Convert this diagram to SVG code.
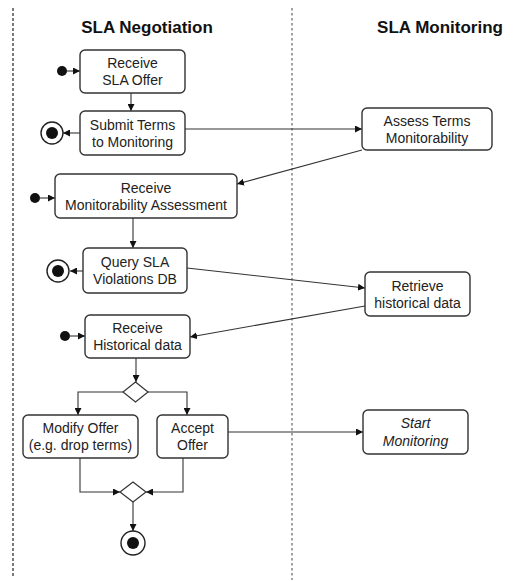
<svg xmlns="http://www.w3.org/2000/svg" width="523" height="581" viewBox="0 0 523 581">
<style>
.lane{stroke:#333;stroke-width:1.3;stroke-dasharray:3 2;fill:none}
.lane2{stroke:#555;stroke-width:1.1;stroke-dasharray:2.5 2.5;fill:none}
.title{font-family:"Liberation Sans",Arial,sans-serif;font-weight:bold;font-size:17px;fill:#111;text-anchor:middle}
.box{fill:#fff;stroke:#333;stroke-width:1.4}
.t{font-family:"Liberation Sans",Arial,sans-serif;font-size:14px;fill:#222;text-anchor:middle}
.it{font-style:italic}
.c{stroke:#333;stroke-width:1.1;fill:none;marker-end:url(#ah)}
.dot{fill:#111}
.dia{fill:#fff;stroke:#333;stroke-width:1.2}
.fo{fill:#fff;stroke:#222;stroke-width:1.4}
</style>
<defs>
<marker id="ah" viewBox="0 0 10 10" refX="10" refY="5" markerWidth="7" markerHeight="7" markerUnits="userSpaceOnUse" orient="auto">
<path d="M0,0 L10,5 L0,10 z" fill="#111"/>
</marker>
</defs>
<rect width="523" height="581" fill="#fff"/>
<g id="lanes">
<line class="lane" x1="13" y1="8" x2="13" y2="576"/>
<line class="lane2" x1="292" y1="8" x2="292" y2="580"/>
<text class="title" x="147" y="33">SLA Negotiation</text>
<text class="title" x="440" y="33">SLA Monitoring</text>
</g>
<g id="connectors">
<path class="c" d="M67,71 H80"/>
<path class="c" d="M131,93 V111"/>
<path class="c" d="M80,133 H63"/>
<path class="c" d="M185,129 H362"/>
<path class="c" d="M362,150 L237,184"/>
<path class="c" d="M40,198 H55"/>
<path class="c" d="M133,218 V248"/>
<path class="c" d="M83,271 H70"/>
<path class="c" d="M187,268 L365,288"/>
<path class="c" d="M365,306 L190,337"/>
<path class="c" d="M70,336 H85"/>
<path class="c" d="M136,358 V382"/>
<path class="c" d="M123,392 H78 V415"/>
<path class="c" d="M148,392 H187 V415"/>
<path class="c" d="M228,432 H363"/>
<path class="c" d="M80,458 V492 H120"/>
<path class="c" d="M183,458 V492 H146"/>
<path class="c" d="M133,502 V531"/>
</g>
<g id="start1"><circle class="dot" cx="62" cy="71" r="5"/></g>
<g id="receiveOffer">
<rect class="box" x="80" y="50" width="105" height="43" rx="5"/>
<text class="t" x="132.5" y="68">Receive</text>
<text class="t" x="132.5" y="85">SLA Offer</text>
</g>
<g id="final1"><circle class="fo" cx="52" cy="133" r="11"/><circle class="dot" cx="52" cy="133" r="6"/></g>
<g id="submitTerms">
<rect class="box" x="80" y="111" width="105" height="44" rx="5"/>
<text class="t" x="132.5" y="130">Submit Terms</text>
<text class="t" x="132.5" y="147">to Monitoring</text>
</g>
<g id="assessTerms">
<rect class="box" x="362" y="108" width="130" height="42" rx="5"/>
<text class="t" x="427" y="126">Assess Terms</text>
<text class="t" x="427" y="143">Monitorability</text>
</g>
<g id="start2"><circle class="dot" cx="35" cy="198" r="5"/></g>
<g id="receiveAssessment">
<rect class="box" x="55" y="174" width="182" height="44" rx="5"/>
<text class="t" x="146" y="193">Receive</text>
<text class="t" x="146" y="210">Monitorability Assessment</text>
</g>
<g id="final2"><circle class="fo" cx="58" cy="271" r="11"/><circle class="dot" cx="58" cy="271" r="6"/></g>
<g id="queryDB">
<rect class="box" x="83" y="248" width="104" height="45" rx="5"/>
<text class="t" x="135" y="267">Query SLA</text>
<text class="t" x="135" y="284">Violations DB</text>
</g>
<g id="retrieve">
<rect class="box" x="365" y="272" width="105" height="44" rx="5"/>
<text class="t" x="417.5" y="291">Retrieve</text>
<text class="t" x="417.5" y="308">historical data</text>
</g>
<g id="start3"><circle class="dot" cx="65" cy="336" r="5"/></g>
<g id="receiveHistorical">
<rect class="box" x="85" y="315" width="105" height="43" rx="5"/>
<text class="t" x="137.5" y="333">Receive</text>
<text class="t" x="137.5" y="350">Historical data</text>
</g>
<g id="decision"><path class="dia" d="M135.5,382 L148,392 L135.5,402 L123,392 z"/></g>
<g id="modifyOffer">
<rect class="box" x="23" y="415" width="115" height="43" rx="5"/>
<text class="t" x="80.5" y="433">Modify Offer</text>
<text class="t" x="80.5" y="450">(e.g. drop terms)</text>
</g>
<g id="acceptOffer">
<rect class="box" x="157" y="415" width="71" height="43" rx="5"/>
<text class="t" x="192.5" y="433">Accept</text>
<text class="t" x="192.5" y="450">Offer</text>
</g>
<g id="startMonitoring">
<rect class="box" x="363" y="410" width="105" height="44" rx="5"/>
<text class="t it" x="415.5" y="428">Start</text>
<text class="t it" x="415.5" y="446">Monitoring</text>
</g>
<g id="merge"><path class="dia" d="M133,482 L146,492 L133,502 L120,492 z"/></g>
<g id="final3"><circle class="fo" cx="133" cy="543" r="12"/><circle class="dot" cx="133" cy="543" r="6"/></g>
</svg>
